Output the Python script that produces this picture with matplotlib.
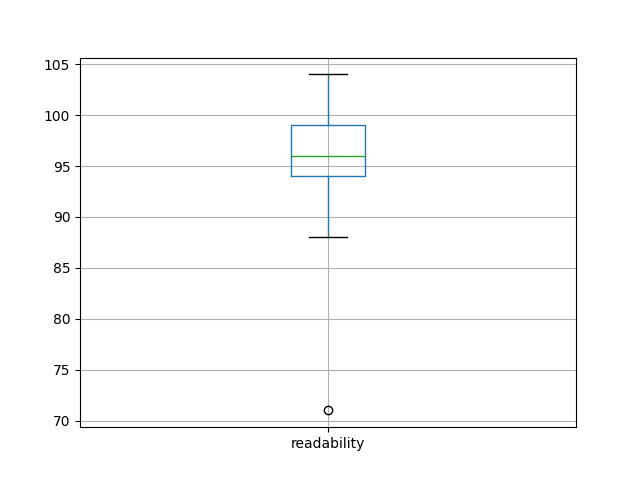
import pandas as pd
import matplotlib
matplotlib.use("Agg")
import matplotlib.pyplot as plt

# readability scores
readability = [71, 88, 94, 94, 96, 97, 99, 99, 104]

df = pd.DataFrame({"readability": readability})

fig = plt.figure(figsize=(6.4, 4.8), dpi=100)
ax = fig.add_subplot(111)
df.boxplot(column=["readability"], ax=ax)

fig.savefig("out.png")
